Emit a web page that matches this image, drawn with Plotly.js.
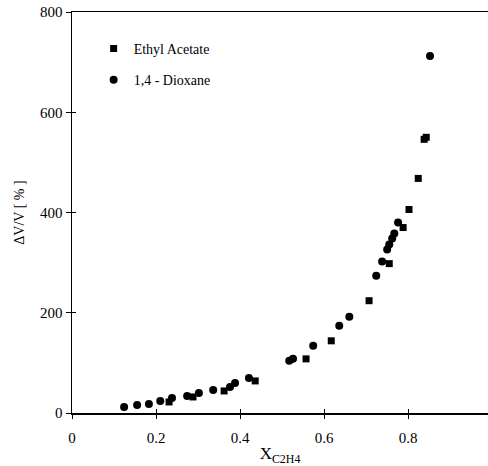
<!DOCTYPE html>
<html>
<head>
<meta charset="utf-8">
<script src="https://cdn.plot.ly/plotly-3.0.1.min.js"></script>
<style>html,body{margin:0;padding:0;background:#fff;}#chart{width:488px;height:466px;}</style>
</head>
<body>
<div id="chart"></div>
<script>
// Ethyl Acetate (squares)
const ethylX = [0.231, 0.288, 0.362, 0.436, 0.557, 0.617, 0.707, 0.755, 0.788, 0.802, 0.824, 0.838, 0.843];
const ethylY = [22, 32, 44, 64, 108, 144, 224, 298, 370, 406, 468, 546, 550];
// 1,4 - Dioxane (circles)
const dioxX = [0.124, 0.155, 0.183, 0.21, 0.238, 0.274, 0.302, 0.336, 0.376, 0.388, 0.421, 0.517, 0.526, 0.574, 0.636, 0.66, 0.724, 0.738, 0.75, 0.755, 0.762, 0.767, 0.776, 0.852];
const dioxY = [12, 16, 18, 24, 30, 34, 40, 46, 52, 60, 70, 104, 108, 134, 174, 192, 274, 302, 326, 336, 348, 358, 380, 712];

const xTicks = [0, 0.2, 0.4, 0.6, 0.8];
const yTicks = [0, 200, 400, 600, 800];

const fam = '"Times New Roman", "Liberation Serif", Times, serif';
const font = {family: fam, size: 15, color: '#000'};
const legFont = {family: fam, size: 14, color: '#000'};

const traces = [
  {x: ethylX, y: ethylY, mode: 'markers', type: 'scatter', name: 'Ethyl Acetate', legendgroup: 'a',
   marker: {symbol: 'square', size: 7, color: '#000'}},
  {x: dioxX, y: dioxY, mode: 'markers', type: 'scatter', name: '1,4 - Dioxane', legendgroup: 'b',
   marker: {symbol: 'circle', size: 8, color: '#000'}},
  {x: [], y: [], xaxis: 'x2', yaxis: 'y2', showlegend: false, hoverinfo: 'skip'}
];

const layout = {
  width: 488, height: 466,
  margin: {l: 72, r: 0, t: 12, b: 53},
  paper_bgcolor: '#fff', plot_bgcolor: '#fff',
  font: font,
  showlegend: true,
  legend: {x: 0.052, y: 0.948, xanchor: 'left', yanchor: 'top', bgcolor: 'rgba(0,0,0,0)',
           font: legFont, traceorder: 'grouped', tracegroupgap: 10, itemwidth: 30},
  xaxis: {range: [0, 0.99], tickvals: xTicks, ticktext: xTicks.map(String), ticks: 'outside', ticklen: 4,
          tickcolor: '#000', showline: true, linecolor: '#000', linewidth: 1.5, mirror: true,
          showgrid: false, zeroline: false, tickfont: font, ticklabelstandoff: 6,
          title: {text: 'X<sub>C2H4</sub>', font: {family: fam, size: 17, color: '#000'}, standoff: 6}},
  yaxis: {range: [0, 800], tickvals: yTicks, ticks: 'outside', ticklen: 5,
          tickcolor: '#000', showline: true, linecolor: '#000', linewidth: 1.5, mirror: false,
          showgrid: false, zeroline: false, tickfont: font,
          title: {text: 'ΔV/V [ % ]', font: {family: fam, size: 14, color: '#000'}, standoff: 12}},
  xaxis2: {range: [0, 0.99], overlaying: 'x', anchor: 'y2', tickvals: xTicks, ticks: 'inside', ticklen: 4,
           tickcolor: '#000', showticklabels: false, showline: false, showgrid: false, zeroline: false},
  yaxis2: {range: [0, 800], overlaying: 'y', anchor: 'x2', tickvals: yTicks, ticks: 'inside', ticklen: 4,
           tickcolor: '#000', showticklabels: false, showline: false, showgrid: false, zeroline: false}
};

Plotly.newPlot('chart', traces, layout, {displayModeBar: false, staticPlot: true});
</script>
</body>
</html>
